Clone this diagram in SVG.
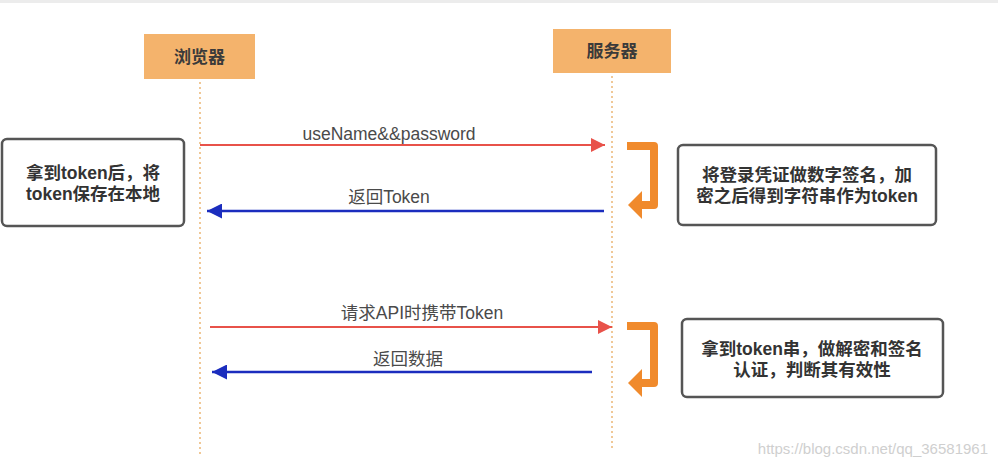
<svg xmlns="http://www.w3.org/2000/svg" width="998" height="467" viewBox="0 0 998 467">
<defs>
<style>
.actor{fill:#F4B36C;}
.atxt{font-family:"Liberation Sans","Noto Sans CJK SC",sans-serif;font-size:17px;font-weight:bold;fill:#3a3a3a;text-anchor:middle;}
.life{stroke:#EDBB7E;stroke-width:1.6;stroke-dasharray:2 3;fill:none;}
.note{fill:#fff;stroke:#555;stroke-width:2.5;}
.ntxt{font-family:"Liberation Sans","Noto Sans CJK SC",sans-serif;font-size:17.5px;font-weight:bold;fill:#333;text-anchor:middle;}
.lbl{font-family:"Liberation Sans","Noto Sans CJK SC",sans-serif;font-size:17.5px;fill:#4a4a4a;text-anchor:middle;}
.req{stroke:#E8524A;stroke-width:2;fill:none;}
.res{stroke:#1B2DBE;stroke-width:2.5;fill:none;}
.loop{stroke:#F08A2C;stroke-width:8;fill:none;stroke-linejoin:round;}
</style>
<marker id="ahRed" viewBox="0 0 10 10" refX="10" refY="5" markerWidth="10" markerHeight="7" markerUnits="strokeWidth" orient="auto">
<path d="M0,0 L10,5 L0,10 z" fill="#E8524A"/>
</marker>
<marker id="ahBlue" viewBox="0 0 10 10" refX="10" refY="5" markerWidth="8" markerHeight="6" markerUnits="strokeWidth" orient="auto">
<path d="M0,0 L10,5 L0,10 z" fill="#1B2DBE"/>
</marker>
</defs>
<rect x="0" y="0" width="998" height="467" fill="#fff"/>
<rect x="0" y="0" width="998" height="3" fill="#ececec"/>

<g id="browser">
<rect class="actor" x="144" y="34" width="111" height="45"/>
<text class="atxt" x="199.5" y="63">浏览器</text>
<line class="life" x1="200" y1="82" x2="200" y2="455"/>
</g>

<g id="server">
<rect class="actor" x="553" y="29" width="118" height="44"/>
<text class="atxt" x="612" y="57">服务器</text>
<line class="life" x1="612" y1="76" x2="612" y2="450"/>
</g>

<g id="note-browser-store">
<rect class="note" x="2" y="139" width="182" height="87" rx="5"/>
<text class="ntxt" x="93" y="179">拿到token后，将</text>
<text class="ntxt" x="93" y="200">token保存在本地</text>
</g>

<g id="note-server-sign">
<rect class="note" x="678" y="145" width="258" height="80" rx="5"/>
<text class="ntxt" x="807" y="181">将登录凭证做数字签名，加</text>
<text class="ntxt" x="807" y="202">密之后得到字符串作为token</text>
</g>

<g id="note-server-verify">
<rect class="note" x="682" y="319" width="261" height="78" rx="5"/>
<text class="ntxt" x="812" y="355">拿到token串，做解密和签名</text>
<text class="ntxt" x="812" y="376">认证，判断其有效性</text>
</g>

<g id="connectors">
<line class="req" x1="200" y1="145" x2="605" y2="145" marker-end="url(#ahRed)"/>
<text class="lbl" x="389" y="140">useName&amp;&amp;password</text>
<line class="res" x1="604" y1="211" x2="207" y2="211" marker-end="url(#ahBlue)"/>
<text class="lbl" x="389" y="203">返回Token</text>

<line class="req" x1="210" y1="327" x2="612" y2="327" marker-end="url(#ahRed)"/>
<text class="lbl" x="422" y="319">请求API时携带Token</text>
<line class="res" x1="592" y1="372" x2="212" y2="372" marker-end="url(#ahBlue)"/>
<text class="lbl" x="408" y="365">返回数据</text>

<path class="loop" d="M627,146 H654 V205 H640"/>
<path d="M642,191 L642,219 L628,205 z" fill="#F08A2C"/>
<path class="loop" d="M627,326 H654 V383 H640"/>
<path d="M642,369 L642,397 L628,383 z" fill="#F08A2C"/>
</g>

<text x="988" y="454" text-anchor="end" font-family="Liberation Sans, sans-serif" font-size="15" fill="#cfcfcf">https://blog.csdn.net/qq_36581961</text>
</svg>
